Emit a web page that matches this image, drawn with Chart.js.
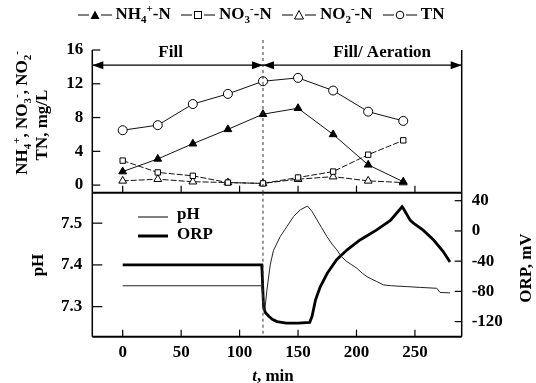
<!DOCTYPE html>
<html>
<head>
<meta charset="utf-8">
<script src="https://cdn.jsdelivr.net/npm/chart.js@4/dist/chart.umd.min.js"></script>
<style>
  body { margin: 0; background: #fff; }
  #wrap { position: relative; width: 536px; height: 383px; font-family: "Liberation Serif", "Times New Roman", serif; font-weight: bold; color: #000; }
  canvas { position: absolute; left: 0; top: 0; }
  #legend { position: absolute; top: 4px; left: 0; width: 522px; text-align: center; font-size: 17px; white-space: nowrap; }
  #legend .it { margin: 0 3px; }
  #legend svg { vertical-align: middle; margin-right: 4px; }
  sub, sup { font-size: 11px; line-height: 0; }
  .rot { position: absolute; height: 20px; line-height: 20px; text-align: center; font-size: 17px; white-space: nowrap; transform: rotate(-90deg); }
  #xtitle { position: absolute; left: 223px; width: 100px; top: 366px; text-align: center; font-size: 17px; }
</style>
</head>
<body>
<div id="wrap">
  <canvas id="top" width="536" height="383"></canvas>
  <canvas id="bottom" width="536" height="383"></canvas>
  <div id="legend">
    <span class="it"><svg width="34" height="12"><line x1="0" y1="6" x2="11" y2="6" stroke="#000"/><line x1="23" y1="6" x2="34" y2="6" stroke="#000"/><polygon points="17,1.5 21.5,10 12.5,10" fill="#000"/></svg>NH<sub>4</sub><sup>+</sup>-N</span>
    <span class="it"><svg width="34" height="12"><line x1="0" y1="6" x2="11" y2="6" stroke="#000"/><line x1="23" y1="6" x2="34" y2="6" stroke="#000"/><rect x="13.5" y="2.5" width="7" height="7" fill="#fff" stroke="#000"/></svg>NO<sub>3</sub><sup>-</sup>-N</span>
    <span class="it"><svg width="34" height="12"><line x1="0" y1="6" x2="11" y2="6" stroke="#000"/><line x1="23" y1="6" x2="34" y2="6" stroke="#000"/><polygon points="17,1.5 21.5,10 12.5,10" fill="#fff" stroke="#000"/></svg>NO<sub>2</sub><sup>-</sup>-N</span>
    <span class="it"><svg width="34" height="12"><line x1="0" y1="6" x2="11" y2="6" stroke="#000"/><line x1="23" y1="6" x2="34" y2="6" stroke="#000"/><circle cx="17" cy="6" r="3.8" fill="#fff" stroke="#000"/></svg>TN</span>
  </div>
  <div class="rot" style="left:-63px; top:103px; width:170px;">NH<sub>4</sub><sup>+</sup>, NO<sub>3</sub><sup>-</sup>, NO<sub>2</sub><sup>-</sup></div>
  <div class="rot" style="left:-8px; top:115px; width:100px;">TN, mg/L</div>
  <div class="rot" style="left:8px; top:255px; width:60px;">pH</div>
  <div class="rot" style="left:486px; top:258px; width:80px;">ORP, mV</div>
  <div id="xtitle"><i>t</i>, min</div>
</div>
<script>
// sampling times (min) and nitrogen concentrations (mg/L)
const sampleTimes = [0, 30, 60, 90, 120, 150, 180, 210, 240];
const nh4 = [1.6, 3.1, 4.9, 6.6, 8.4, 9.1, 6.0, 2.4, 0.4];
const no3 = [2.9, 1.5, 1.1, 0.3, 0.2, 0.9, 1.6, 3.6, 5.3];
const no2 = [0.5, 0.7, 0.4, 0.3, 0.2, 0.7, 1.0, 0.5, 0.3];
const tn = [6.5, 7.1, 9.6, 10.8, 12.3, 12.7, 11.2, 8.7, 7.6];

// online probes
const phTimes = [0, 119, 120.5, 121.5, 123.4, 126.2, 129, 134.8, 140.5, 146.2, 151.9, 158.1, 162, 166.2, 170, 174.7, 179, 183.2, 187, 191.8, 196, 200.3, 205, 208.9, 213, 217.4, 223.1, 230, 243, 255, 268.7, 271.5, 280];
const phValues = [7.35, 7.35, 7.30, 7.29, 7.34, 7.40, 7.435, 7.468, 7.492, 7.516, 7.532, 7.541, 7.528, 7.508, 7.49, 7.468, 7.45, 7.436, 7.42, 7.408, 7.40, 7.392, 7.38, 7.372, 7.366, 7.36, 7.352, 7.35, 7.348, 7.346, 7.344, 7.334, 7.333];
const orpTimes = [0, 119, 120.5, 122, 125, 128, 132, 140, 150, 160, 162, 165, 169, 175, 183, 192, 203, 217, 229, 239, 240, 246, 249, 257, 266, 274, 280];
const orpValues = [-45, -45, -100, -108, -113, -117, -120, -122, -122, -121, -113, -91, -74, -56, -38, -25, -12, 1, 14, 32, 30, 14, 10, 1, -12, -27, -41];

const timeTicks = [0, 50, 100, 150, 200, 250];
const concTicks = [0, 4, 8, 12, 16];
const phTicks = [7.3, 7.4, 7.5];
const orpTicks = [-120, -80, -40, 0, 40];
const phaseSwitch = 120;

const tickFont = { family: '"Liberation Serif", serif', size: 17, weight: 'bold' };
const plotL = 92.3, plotR = 461.7, midY = 192.7, plotB = 336.7;

function line(ctx, x1, y1, x2, y2) {
  ctx.beginPath(); ctx.moveTo(x1, y1); ctx.lineTo(x2, y2); ctx.stroke();
}
function arrow(ctx, x1, x2, y) {
  line(ctx, x1, y, x2, y);
  ctx.beginPath(); ctx.moveTo(x1, y); ctx.lineTo(x1 + 11, y - 4); ctx.lineTo(x1 + 11, y + 4); ctx.closePath(); ctx.fill();
  ctx.beginPath(); ctx.moveTo(x2, y); ctx.lineTo(x2 - 11, y - 4); ctx.lineTo(x2 - 11, y + 4); ctx.closePath(); ctx.fill();
}
function pts(xs, ys) { return xs.map((x, i) => ({ x: x, y: ys[i] })); }

function nSeries(label, vals, style, fill, dash) {
  return {
    label: label, data: pts(sampleTimes, vals),
    borderColor: '#111', borderWidth: 1, borderDash: dash,
    pointStyle: style, pointRadius: style === 'rect' ? 3.8 : 4.5,
    pointBackgroundColor: fill, pointBorderColor: '#000', pointBorderWidth: 1
  };
}

const topDecor = {
  id: 'topDecor',
  afterDraw(chart) {
    const ctx = chart.ctx, a = chart.chartArea, xs = chart.scales.x, ys = chart.scales.y;
    ctx.save();
    ctx.strokeStyle = '#000'; ctx.fillStyle = '#000';
    const yTop = ys.getPixelForValue(16);
    ctx.lineWidth = 1.5;
    line(ctx, a.left, yTop, a.left, a.bottom);
    line(ctx, a.right, yTop, a.right, a.bottom);
    ctx.lineWidth = 2;
    line(ctx, a.left, a.bottom, a.right, a.bottom);
    ctx.lineWidth = 1.2;
    concTicks.forEach(v => { const y = ys.getPixelForValue(v); line(ctx, a.left, y, a.left + 8, y); });
    timeTicks.forEach(t => { const x = xs.getPixelForValue(t); line(ctx, x, a.bottom, x, a.bottom - 7); });
    const xm = xs.getPixelForValue(phaseSwitch);
    ctx.setLineDash([3, 3]); ctx.lineWidth = 1; ctx.strokeStyle = '#333';
    line(ctx, xm, 40, xm, a.bottom);
    ctx.setLineDash([]); ctx.strokeStyle = '#000'; ctx.lineWidth = 1.3;
    const ay = ys.getPixelForValue(14.2);
    arrow(ctx, a.left, xm, ay);
    arrow(ctx, xm, a.right, ay);
    ctx.font = 'bold 17px "Liberation Serif", serif';
    ctx.textAlign = 'center'; ctx.textBaseline = 'middle';
    ctx.fillText('Fill', xs.getPixelForValue(41), ys.getPixelForValue(15.7));
    ctx.fillText('Fill/ Aeration', xs.getPixelForValue(222), ys.getPixelForValue(15.7));
    ctx.restore();
  }
};

const bottomDecor = {
  id: 'bottomDecor',
  afterDraw(chart) {
    const ctx = chart.ctx, a = chart.chartArea, xs = chart.scales.x;
    const ph = chart.scales.ph, orp = chart.scales.orp;
    ctx.save();
    ctx.strokeStyle = '#000'; ctx.fillStyle = '#000';
    ctx.lineWidth = 1.5;
    line(ctx, a.left, a.top, a.left, a.bottom);
    line(ctx, a.right, a.top, a.right, a.bottom);
    ctx.lineWidth = 2;
    line(ctx, a.left, a.bottom, a.right, a.bottom);
    ctx.lineWidth = 1.2;
    phTicks.forEach(v => { const y = ph.getPixelForValue(v); line(ctx, a.left, y, a.left + 10, y); });
    orpTicks.forEach(v => { const y = orp.getPixelForValue(v); line(ctx, a.right, y, a.right - 7, y); });
    timeTicks.forEach(t => { const x = xs.getPixelForValue(t); line(ctx, x, a.bottom, x, a.bottom - 7); });
    const xm = xs.getPixelForValue(phaseSwitch);
    ctx.setLineDash([3, 3]); ctx.lineWidth = 1; ctx.strokeStyle = '#333';
    line(ctx, xm, a.top, xm, a.bottom);
    ctx.setLineDash([]); ctx.strokeStyle = '#000';
    // inner legend
    ctx.lineWidth = 1; line(ctx, 138, 217, 168, 217);
    ctx.lineWidth = 3; line(ctx, 138, 236, 168, 236);
    ctx.font = 'bold 17px "Liberation Serif", serif';
    ctx.textAlign = 'left'; ctx.textBaseline = 'middle';
    ctx.fillText('pH', 177, 215);
    ctx.fillText('ORP', 177, 235);
    ctx.restore();
  }
};

new Chart(document.getElementById('top'), {
  type: 'line',
  data: {
    datasets: [
      nSeries('NH4+-N', nh4, 'triangle', '#000', []),
      nSeries('NO3--N', no3, 'rect', '#fff', [6, 2]),
      nSeries('NO2--N', no2, 'triangle', '#fff', [6, 2]),
      nSeries('TN', tn, 'circle', '#fff', [])
    ]
  },
  options: {
    responsive: false, animation: false, devicePixelRatio: 1,
    layout: { padding: { top: 50, bottom: 383 - midY, left: 0, right: 536 - plotR } },
    plugins: { legend: { display: false }, tooltip: { enabled: false } },
    scales: {
      x: {
        type: 'linear', min: -26, max: 290,
        ticks: { display: false },
        grid: { display: false, drawTicks: false }, border: { display: false },
        afterFit: s => { s.height = 0; }
      },
      y: {
        min: -0.9, max: 16,
        afterBuildTicks: s => { s.ticks = concTicks.map(v => ({ value: v })); },
        ticks: { font: tickFont, color: '#000', padding: 9 },
        grid: { display: false, drawTicks: false }, border: { display: false },
        afterFit: s => { s.width = plotL; }
      }
    }
  },
  plugins: [topDecor]
});

new Chart(document.getElementById('bottom'), {
  type: 'line',
  data: {
    datasets: [
      { label: 'pH', data: pts(phTimes, phValues), yAxisID: 'ph', borderColor: '#222', borderWidth: 1, pointRadius: 0, tension: 0 },
      { label: 'ORP', data: pts(orpTimes, orpValues), yAxisID: 'orp', borderColor: '#000', borderWidth: 2.8, pointRadius: 0, tension: 0 }
    ]
  },
  options: {
    responsive: false, animation: false, devicePixelRatio: 1,
    layout: { padding: { top: midY, bottom: 0, left: 0, right: 0 } },
    plugins: { legend: { display: false }, tooltip: { enabled: false } },
    scales: {
      x: {
        type: 'linear', min: -26, max: 290,
        afterBuildTicks: s => { s.ticks = timeTicks.map(v => ({ value: v })); },
        ticks: { font: tickFont, color: '#000', padding: 6, maxRotation: 0 },
        grid: { display: false, drawTicks: false }, border: { display: false },
        afterFit: s => { s.height = 383 - plotB; }
      },
      ph: {
        position: 'left', min: 7.228, max: 7.573,
        afterBuildTicks: s => { s.ticks = phTicks.map(v => ({ value: v })); },
        ticks: { font: tickFont, color: '#000', padding: 10, callback: v => v.toFixed(1) },
        grid: { display: false, drawTicks: false }, border: { display: false },
        afterFit: s => { s.width = plotL; }
      },
      orp: {
        position: 'right', min: -140, max: 50.6,
        afterBuildTicks: s => { s.ticks = orpTicks.map(v => ({ value: v })); },
        ticks: { font: tickFont, color: '#000', padding: 10 },
        grid: { display: false, drawTicks: false }, border: { display: false },
        afterFit: s => { s.width = 536 - plotR; }
      }
    }
  },
  plugins: [bottomDecor]
});
</script>
</body>
</html>
